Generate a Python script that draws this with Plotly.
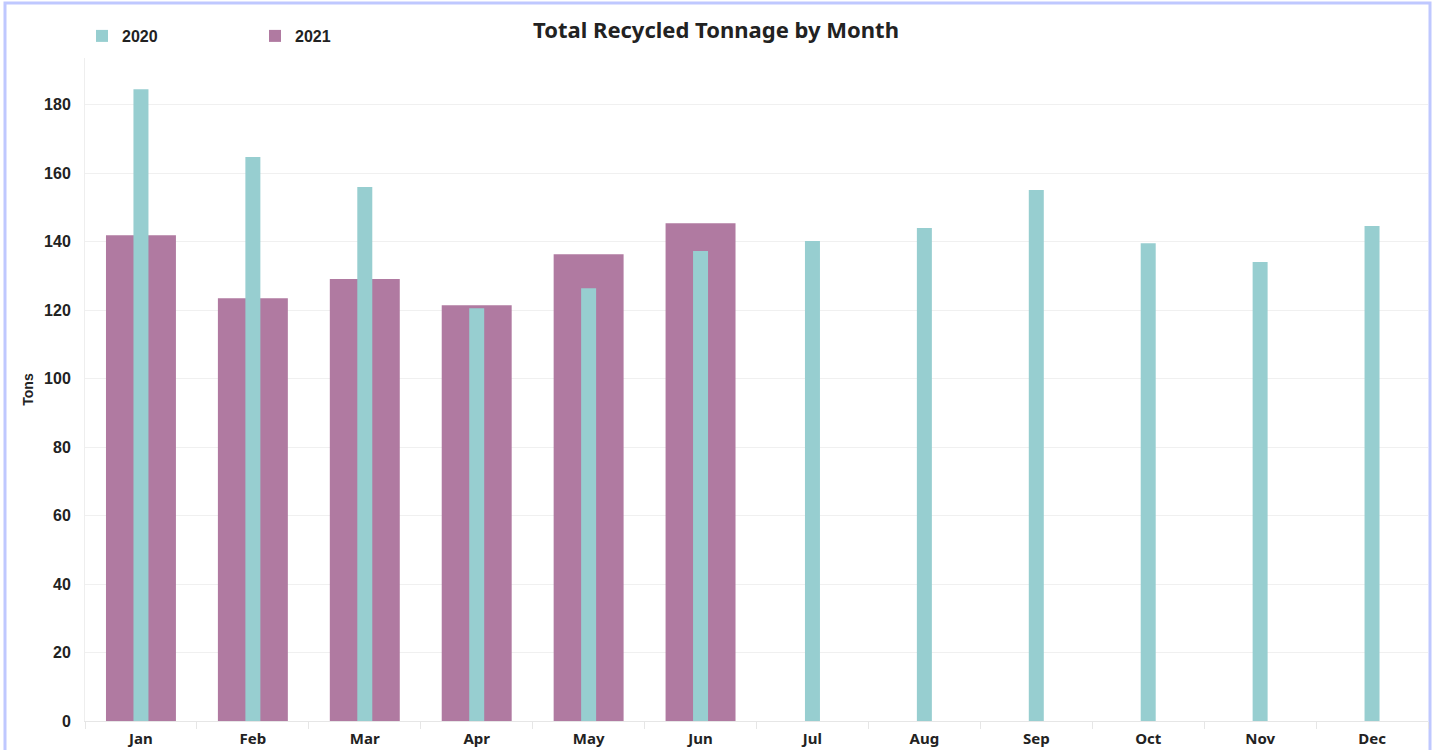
import plotly.graph_objects as go

months = ["Jan", "Feb", "Mar", "Apr", "May", "Jun", "Jul", "Aug", "Sep", "Oct", "Nov", "Dec"]
tons_2020 = [184.6, 164.8, 156.0, 120.6, 126.4, 137.3, 140.2, 144.0, 155.1, 139.6, 134.1, 144.6]
months_2021 = ["Jan", "Feb", "Mar", "Apr", "May", "Jun"]
tons_2021 = [141.9, 123.5, 129.1, 121.5, 136.4, 145.4]
y_ticks = [0, 20, 40, 60, 80, 100, 120, 140, 160, 180]

TEAL = "#97CED0"
PURPLE = "#B07AA1"

fig = go.Figure()
fig.add_trace(go.Bar(
    x=months_2021, y=tons_2021, name="2021", marker=dict(color=PURPLE, line=dict(width=0)),
    width=0.625, legendrank=2,
))
fig.add_trace(go.Bar(
    x=months, y=tons_2020, name="2020", marker=dict(color=TEAL, line=dict(width=0)),
    width=0.134, legendrank=1,
))

fig.update_layout(
    width=1435, height=750,
    barmode="overlay",
    paper_bgcolor="white", plot_bgcolor="white",
    margin=dict(l=85, r=7, t=58, b=29, autoexpand=False),
    title=dict(
        text="Total Recycled Tonnage by Month",
        x=716 / 1435, xanchor="center", y=1 - 30 / 750, yanchor="middle",
        font=dict(family="Noto Sans", size=22, color="#222222", weight="bold"),
    ),
    legend=dict(
        orientation="h", x=(82 - 85) / 1343, xanchor="left",
        y=(721 - 36) / 663, yanchor="middle",
        entrywidth=128,
        font=dict(family="Liberation Sans", size=16, color="#222222", weight="bold"),
        bgcolor="rgba(0,0,0,0)",
    ),
    font=dict(family="Liberation Sans"),
    shapes=[dict(
        type="rect", xref="paper", yref="paper",
        x0=(5 - 85) / 1343, x1=(1430 - 85) / 1343,
        y0=(721 - 760) / 663, y1=(721 - 3) / 663,
        line=dict(color="#BFC8FF", width=3), fillcolor="rgba(0,0,0,0)", layer="below",
    )],
)

fig.update_xaxes(
    type="category", categoryorder="array", categoryarray=months,
    tickson="boundaries", ticks="outside", ticklen=7, tickcolor="#E6E6E6",
    ticklabelstandoff=4, automargin=False,
    showgrid=False, showline=True, linecolor="#E6E6E6", linewidth=1,
    tickfont=dict(family="Noto Sans", size=15, color="#222222", weight="bold"),
    range=[-0.5, 11.5],
)
fig.update_yaxes(
    range=[0, 193.7], tickvals=y_ticks, ticktext=[str(v) for v in y_ticks],
    automargin=False,
    showgrid=True, gridcolor="#F0F0F0", gridwidth=1,
    zeroline=False, showline=True, linecolor="#EEEEEE", linewidth=1,
    ticks="outside", ticklen=10, tickcolor="rgba(0,0,0,0)",
    tickfont=dict(family="Liberation Sans", size=16, color="#222222", weight="bold"),
    title=dict(text="Tons", standoff=7,
               font=dict(family="Liberation Sans", size=14, color="#222222", weight="bold")),
)

fig.write_html(
    "out.html",
    config={"displayModeBar": False},
    post_script="document.body.style.margin='0';document.body.style.padding='0';",
)
